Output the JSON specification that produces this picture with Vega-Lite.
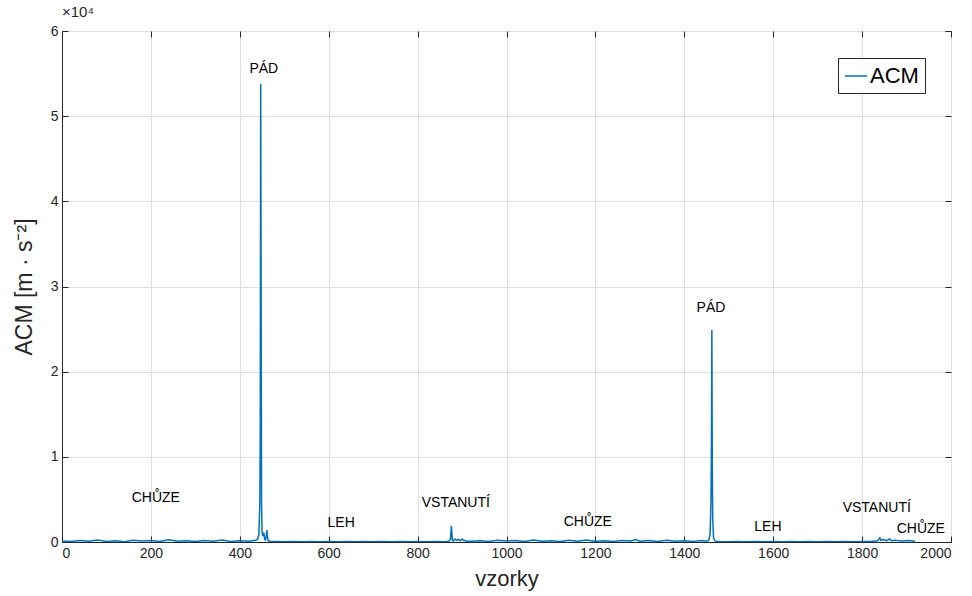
{
  "$schema": "https://vega.github.io/schema/vega-lite/v6.json",
  "width": 889,
  "height": 511,
  "autosize": "none",
  "padding": {"left": 62, "top": 31, "right": 21, "bottom": 54},
  "background": "white",
  "config": {
    "font": "Liberation Sans",
    "view": {"stroke": "#262626", "strokeWidth": 1},
    "axis": {"labelFont": "Liberation Sans", "titleFont": "Liberation Sans", "labelColor": "#262626", "titleColor": "#262626", "titleFontWeight": "normal", "labelFontSize": 14, "titleFontSize": 22, "gridColor": "#dfdfdf", "domainColor": "#262626", "tickColor": "#262626", "tickSize": -6, "labelPadding": 10}
  },
  "title": {"text": "×10⁴", "anchor": "start", "frame": "group", "fontSize": 15, "fontWeight": "normal", "color": "#262626", "offset": 4, "font": "Liberation Sans"},
  "resolve": {"axis": {"x": "independent", "y": "independent"}},
  "datasets": {
    "sig": [
      {"x":0,"y":120},{"x":20,"y":60},{"x":40,"y":180},{"x":60,"y":90},{"x":80,"y":220},{"x":100,"y":70},{"x":120,"y":150},{"x":140,"y":40},{"x":160,"y":200},{"x":180,"y":110},{"x":200,"y":170},{"x":220,"y":60},{"x":240,"y":250},{"x":260,"y":90},{"x":280,"y":140},{"x":300,"y":50},{"x":320,"y":190},{"x":340,"y":100},{"x":360,"y":230},{"x":380,"y":70},{"x":400,"y":160},{"x":420,"y":90},{"x":435,"y":200},
      {"x":440,"y":300},{"x":443,"y":900},{"x":445,"y":4500},{"x":446,"y":12000},{"x":447,"y":53800},{"x":448,"y":29000},{"x":449,"y":4200},{"x":450,"y":1200},{"x":452,"y":700},{"x":454,"y":1100},{"x":456,"y":300},{"x":458,"y":250},{"x":460,"y":900},{"x":461,"y":1400},{"x":462,"y":600},{"x":464,"y":150},{"x":468,"y":80},
      {"x":480,"y":60},{"x":500,"y":40},{"x":520,"y":70},{"x":540,"y":30},{"x":560,"y":60},{"x":580,"y":40},{"x":600,"y":50},{"x":620,"y":30},{"x":640,"y":70},{"x":660,"y":40},{"x":680,"y":60},{"x":700,"y":30},{"x":720,"y":50},{"x":740,"y":40},{"x":760,"y":60},{"x":780,"y":30},{"x":800,"y":50},{"x":820,"y":40},{"x":840,"y":60},{"x":860,"y":40},{"x":870,"y":80},
      {"x":874,"y":300},{"x":876,"y":1900},{"x":877,"y":1200},{"x":878,"y":300},{"x":880,"y":100},{"x":884,"y":350},{"x":888,"y":200},{"x":892,"y":300},{"x":896,"y":150},{"x":900,"y":350},{"x":904,"y":200},{"x":910,"y":100},{"x":920,"y":80},
      {"x":940,"y":150},{"x":960,"y":70},{"x":980,"y":200},{"x":1000,"y":110},{"x":1020,"y":180},{"x":1040,"y":60},{"x":1060,"y":220},{"x":1080,"y":90},{"x":1100,"y":160},{"x":1120,"y":50},{"x":1140,"y":200},{"x":1160,"y":100},{"x":1180,"y":240},{"x":1200,"y":80},{"x":1220,"y":150},{"x":1240,"y":60},{"x":1260,"y":190},{"x":1280,"y":110},{"x":1290,"y":300},{"x":1300,"y":90},{"x":1320,"y":170},{"x":1340,"y":60},{"x":1360,"y":210},{"x":1380,"y":100},{"x":1400,"y":150},{"x":1420,"y":70},{"x":1440,"y":180},{"x":1450,"y":100},
      {"x":1455,"y":200},{"x":1458,"y":900},{"x":1460,"y":4600},{"x":1461,"y":10800},{"x":1462,"y":24900},{"x":1463,"y":9000},{"x":1464,"y":2500},{"x":1466,"y":400},{"x":1470,"y":100},
      {"x":1480,"y":50},{"x":1500,"y":30},{"x":1520,"y":60},{"x":1540,"y":40},{"x":1560,"y":50},{"x":1580,"y":30},{"x":1600,"y":60},{"x":1620,"y":40},{"x":1640,"y":50},{"x":1660,"y":30},{"x":1680,"y":60},{"x":1700,"y":40},{"x":1720,"y":50},{"x":1740,"y":30},{"x":1760,"y":60},{"x":1780,"y":40},{"x":1800,"y":50},{"x":1820,"y":60},
      {"x":1835,"y":150},{"x":1840,"y":500},{"x":1842,"y":200},{"x":1848,"y":300},{"x":1855,"y":150},{"x":1862,"y":350},{"x":1866,"y":150},{"x":1875,"y":200},{"x":1890,"y":120},{"x":1905,"y":180},{"x":1919,"y":100}
    ],
    "notes": [
      {"x":454,"y":55500,"t":"PÁD"},
      {"x":211,"y":5170,"t":"CHŮZE"},
      {"x":628,"y":2200,"t":"LEH"},
      {"x":886,"y":4600,"t":"VSTANUTÍ"},
      {"x":1183,"y":2350,"t":"CHŮZE"},
      {"x":1460,"y":27500,"t":"PÁD"},
      {"x":1588,"y":1760,"t":"LEH"},
      {"x":1833,"y":4000,"t":"VSTANUTÍ"},
      {"x":1932,"y":1500,"t":"CHŮZE"}
    ]
  },
  "layer": [
    {
      "data": {"name": "sig"},
      "mark": {"type": "line", "strokeWidth": 1.5, "clip": true},
      "encoding": {
        "x": {"field": "x", "type": "quantitative", "scale": {"domain": [0, 2000], "nice": false}, "axis": {"values": [0,200,400,600,800,1000,1200,1400,1600,1800,2000], "format": "d", "title": "vzorky", "titlePadding": 8}},
        "y": {"field": "y", "type": "quantitative", "scale": {"domain": [0, 60000], "nice": false}, "axis": {"values": [0,10000,20000,30000,40000,50000,60000], "labelExpr": "datum.value/10000", "title": "ACM [m · s⁻²]", "titleFontSize": 23, "titlePadding": 14}},
        "color": {"datum": "ACM", "scale": {"range": ["#0072BD"]}, "legend": {"title": null, "orient": "none", "legendX": 776, "legendY": 27, "symbolType": "stroke", "symbolSize": 500, "symbolStrokeWidth": 1.5, "labelFontSize": 22, "labelFont": "Liberation Sans", "labelColor": "#000000", "strokeColor": "#262626", "fillColor": "white", "padding": 6, "labelOffset": 2}}
      }
    },
    {
      "data": {"name": "notes"},
      "mark": {"type": "text", "fontSize": 14, "font": "Liberation Sans", "color": "#000000", "baseline": "middle", "align": "center"},
      "encoding": {
        "x": {"field": "x", "type": "quantitative", "axis": {"orient": "top", "labels": false, "grid": false, "domain": false, "title": null, "values": [0,200,400,600,800,1000,1200,1400,1600,1800,2000]}},
        "y": {"field": "y", "type": "quantitative", "axis": {"orient": "right", "labels": false, "grid": false, "domain": false, "title": null, "values": [0,10000,20000,30000,40000,50000,60000]}},
        "text": {"field": "t"}
      }
    }
  ]
}
